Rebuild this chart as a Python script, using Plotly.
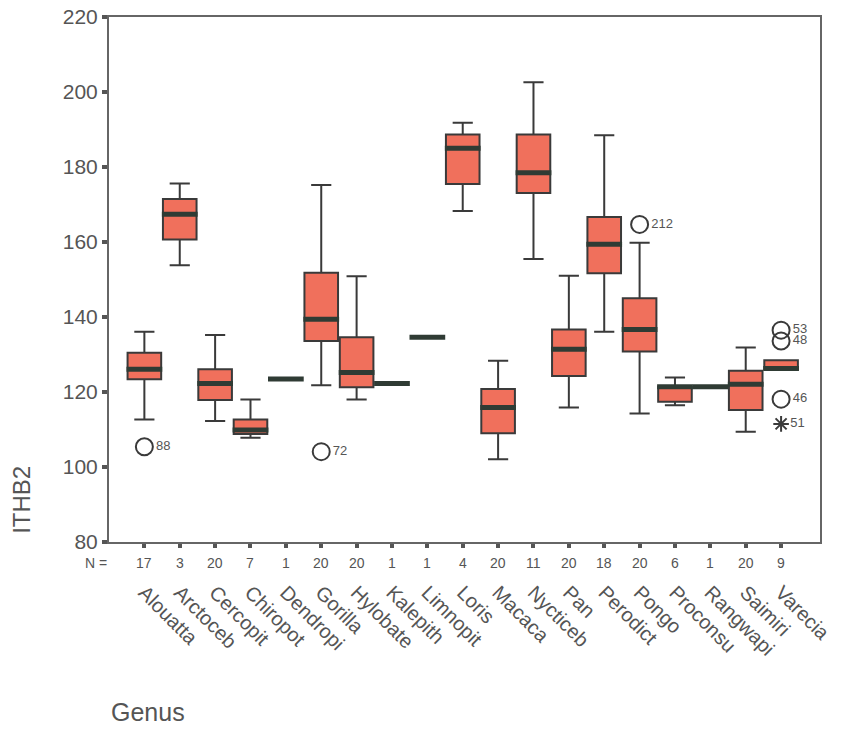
import plotly.graph_objects as go

genus = ["Alouatta", "Arctoceb", "Cercopit", "Chiropot", "Dendropi", "Gorilla",
         "Hylobate", "Kalepith", "Limnopit", "Loris", "Macaca", "Nycticeb", "Pan",
         "Perodict", "Pongo", "Proconsu", "Rangwapi", "Saimiri", "Varecia"]
n_counts = [17, 3, 20, 7, 1, 20, 20, 1, 1, 4, 20, 11, 20, 18, 20, 6, 1, 20, 9]

lower_whisker = [112.7, 153.8, 112.3, 107.8, 123.5, 121.8, 118.0, 122.3, 134.6, 168.3,
                 102.1, 155.5, 115.9, 136.1, 114.3, 116.5, 121.4, 109.4, 126.1]
q1 = [123.4, 160.7, 117.9, 108.8, 123.5, 133.6, 121.3, 122.3, 134.6, 175.5,
      109.0, 173.1, 124.3, 151.7, 130.8, 117.4, 121.4, 115.2, 126.1]
median = [126.1, 167.4, 122.3, 109.9, 123.5, 139.4, 125.2, 122.3, 134.6, 185.0,
          115.9, 178.5, 131.4, 159.4, 136.7, 121.4, 121.4, 122.1, 126.3]
q3 = [130.5, 171.5, 126.1, 112.7, 123.5, 151.8, 134.6, 122.3, 134.6, 188.7,
      120.8, 188.7, 136.7, 166.7, 145.0, 121.4, 121.4, 125.7, 128.5]
upper_whisker = [136.1, 175.6, 135.2, 118.0, 123.5, 175.2, 150.9, 122.3, 134.6, 191.8,
                 128.3, 202.6, 151.0, 188.5, 159.8, 123.9, 121.4, 131.9, 128.5]

# outliers (circle) and extremes (asterisk)
outlier_genus = ["Alouatta", "Gorilla", "Pongo", "Varecia", "Varecia", "Varecia"]
outlier_value = [105.4, 104.1, 164.7, 136.5, 133.6, 118.1]
outlier_case = ["88", "72", "212", "53", "48", "46"]
extreme_genus = ["Varecia"]
extreme_value = [111.5]
extreme_case = ["51"]

y_ticks = [80, 100, 120, 140, 160, 180, 200, 220]

idx = list(range(len(genus)))
pos = {g: i for i, g in enumerate(genus)}

FONT = "Liberation Sans, Arial, sans-serif"
GREY = "#555555"
BOX_W = 0.95

fig = go.Figure()

fig.add_trace(go.Box(
    x=idx, q1=q1, median=median, q3=q3,
    lowerfence=lower_whisker, upperfence=upper_whisker,
    width=BOX_W, whiskerwidth=0.6, boxpoints=False,
    fillcolor="#F0705C", line=dict(color="#3a3a3a", width=2),
    showlegend=False, hoverinfo="skip",
))

# thick median bars
mx, my = [], []
for i, m in zip(idx, median):
    mx += [i - BOX_W / 2 - 0.03, i + BOX_W / 2 + 0.03, None]
    my += [m, m, None]
fig.add_trace(go.Scatter(x=mx, y=my, mode="lines",
                         line=dict(color="#2f3b34", width=5),
                         showlegend=False, hoverinfo="skip"))

fig.add_trace(go.Scatter(
    x=[pos[g] for g in outlier_genus], y=outlier_value, mode="markers+text",
    marker=dict(symbol="circle-open", size=17, color="#3a3a3a", line=dict(width=2)),
    text=outlier_case, textposition="middle right",
    textfont=dict(family=FONT, size=13, color="#555555"),
    showlegend=False, hoverinfo="skip"))

fig.add_trace(go.Scatter(
    x=[pos[g] for g in extreme_genus], y=extreme_value, mode="markers+text",
    marker=dict(symbol="asterisk-open", size=13, color="#3a3a3a", line=dict(width=2)),
    text=extreme_case, textposition="middle right",
    textfont=dict(family=FONT, size=13, color="#555555"),
    showlegend=False, hoverinfo="skip"))

annotations = []
for i, n in zip(idx, n_counts):
    annotations.append(dict(x=i, y=0, xref="x", yref="paper", text=str(n),
                            showarrow=False, yanchor="top", yshift=-11,
                            font=dict(family=FONT, size=14, color=GREY)))
annotations.append(dict(x=-1.0, y=0, xref="x", yref="paper", text="N =",
                        showarrow=False, xanchor="right", yanchor="top", yshift=-11,
                        font=dict(family=FONT, size=14, color=GREY)))
# axis titles placed like the original
annotations.append(dict(x=-0.124, y=0.08, xref="paper", yref="paper", text="ITHB2",
                        showarrow=False, textangle=-90, xanchor="center", yanchor="middle",
                        font=dict(family=FONT, size=24, color=GREY)))
annotations.append(dict(x=0.0, y=-0.324, xref="paper", yref="paper", text="Genus",
                        showarrow=False, xanchor="left", yanchor="middle",
                        font=dict(family=FONT, size=25, color=GREY)))

fig.update_layout(
    width=852, height=730,
    margin=dict(l=109, r=32, t=17, b=188),
    paper_bgcolor="white", plot_bgcolor="white",
    font=dict(family=FONT, color=GREY),
    annotations=annotations,
    xaxis=dict(
        range=[-1.0, 19.1], tickmode="array", tickvals=idx, ticktext=genus,
        tickangle=45, tickfont=dict(family=FONT, size=20, color=GREY),
        ticks="outside", ticklen=4, tickwidth=4, tickcolor="#555555",
        ticklabelstandoff=25, automargin=False,
        showline=True, linecolor="#666666", linewidth=2, mirror=True,
        showgrid=False, zeroline=False,
    ),
    yaxis=dict(
        range=[80, 220], tickmode="array", tickvals=y_ticks,
        tickfont=dict(family=FONT, size=21, color=GREY),
        ticks="outside", ticklen=5, tickwidth=4, tickcolor="#555555",
        automargin=False,
        showline=True, linecolor="#666666", linewidth=2, mirror=True,
        showgrid=False, zeroline=False,
    ),
)

fig.write_html("out.html", config={"displayModeBar": False},
               post_script="document.body.style.margin='0';")
